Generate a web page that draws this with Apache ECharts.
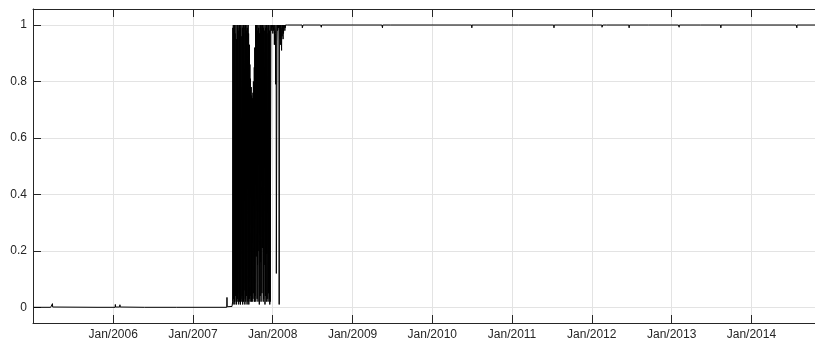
<!DOCTYPE html>
<html><head><meta charset="utf-8">
<script src="https://cdn.jsdelivr.net/npm/echarts@6/dist/echarts.min.js"></script>
<style>html,body{margin:0;padding:0;background:#fff}#c{width:815px;height:342px}</style>
</head><body><div id="c"></div><script>
// ---- data ----
const preDates = ['2005-01-03','2005-03-21','2005-03-22','2005-03-23','2005-03-28','2005-03-29','2005-03-30','2005-10-19','2005-10-20','2005-10-21','2006-01-10','2006-01-11','2006-01-12','2006-01-31','2006-02-01','2006-02-02','2006-05-24','2006-05-25','2006-05-26','2006-10-19','2006-10-20','2006-10-23','2007-06-05','2007-06-06','2007-06-07','2007-06-29'];
const preValues = [0,0,0.006,0.001,0.003,0.013,0.001,0,0.003,0,0,0.01,0.001,0.001,0.009,0.001,0,0.003,0,0,0.003,0,0,0.035,0.002,0.003];

// business-day values from 2007-07-02 (Mon), five per week
const transStart = '2007-07-02';
const transValues = [
  0.02,0.99,0.01,1,0.03,
  0.98,0.02,1,0.01,0.97,
  0.04,1,0.02,0.95,0.01,
  1,0.03,0.99,0.02,1,
  0.01,0.98,0.05,1,0.02,
  0.99,0.01,1,0.03,0.96,
  0.02,1,0.04,0.99,0.01,
  1,0.02,0.97,0.06,1,
  0.01,0.99,0.03,1,0.02,
  0.98,0.04,1,0.01,0.99,
  0.02,1,0.03,0.97,0.01,
  0.93,0.03,0.86,0.02,0.81,
  0.04,0.78,0.02,0.75,0.03,
  0.74,0.02,0.76,0.05,0.8,
  0.03,0.85,0.02,0.92,0.04,
  1,0.02,0.99,0.18,1,
  0.03,0.98,0.15,1,0.02,
  0.99,0.2,1,0.01,0.97,
  0.04,1,0.16,0.99,0.02,
  1,0.05,0.98,0.21,1,
  0.02,0.99,0.03,1,0.15,
  0.98,0.01,1,0.04,0.99,
  0.02,1,0.19,0.97,0.03,
  1,0.02,0.99,0.05,1,
  0.03,0.98,0.01,1,0.02,
  0.99,1,0.98,1,0.99,
  1,0.99,0.97,1,0.98,
  1,0.99,0.93,0.98,1,
  0.97,0.79,0.95,1,0.12,
  0.94,0.99,1,0.98,1,
  0.99,1,0.98,0.01,1,
  0.98,0.95,1,0.93,0.99,
  0.91,1,0.96,0.98,1,
  0.95,1,0.97,1,0.99,
  1,0.98,1,0.99,1,
  1,1,0.995,1,1
];

const postDates = ['2008-03-10','2008-05-15','2008-05-16','2008-05-19','2008-08-08','2008-08-11','2008-08-12','2009-05-15','2009-05-18','2009-05-19','2009-06-25','2009-06-26','2009-06-29','2010-06-30','2010-07-01','2010-07-02','2011-02-01','2011-02-02','2011-02-03','2011-07-11','2011-07-12','2011-07-13','2012-01-24','2012-01-25','2012-01-26','2012-02-16','2012-02-17','2012-02-20','2012-03-09','2012-03-12','2012-03-13','2012-06-19','2012-06-20','2012-06-21','2012-09-18','2012-09-19','2012-09-20','2013-02-01','2013-02-04','2013-02-05','2013-05-14','2013-05-15','2013-05-16','2013-08-13','2013-08-14','2013-08-15','2014-07-25','2014-07-28','2014-07-29','2014-10-20'];
const postValues = [1,1,0.99,1,1,0.992,1,1,0.99,1,1,0.993,1,1,0.99,1,1,0.994,1,1,0.99,1,1,0.993,1,1,0.992,1,1,0.994,1,1,0.99,1,1,0.993,1,1,0.992,1,1,0.993,1,1,0.99,1,1,0.99,1,1];

const xTickYears = [2006,2007,2008,2009,2010,2011,2012,2013,2014];
const yTicks = [0,0.2,0.4,0.6,0.8,1];

// ---- build series ----
function parseD(s){const p=s.split('-').map(Number);return new Date(p[0],p[1]-1,p[2]).getTime();}
const pts = [];
preDates.forEach((d,i)=>pts.push([parseD(d),preValues[i]]));
const t0 = parseD(transStart);
transValues.forEach((v,i)=>{
  const d = new Date(t0); d.setDate(d.getDate()+Math.floor(i/5)*7+(i%5));
  pts.push([d.getTime(),v]);
});
postDates.forEach((d,i)=>pts.push([parseD(d),postValues[i]]));

const xTicks = xTickYears.map(y=>new Date(y,0,1).getTime());
const xMin = new Date(2004,11,30).getTime();
const xMax = new Date(2014,9,19).getTime();
const axisCol = '#262626';
const gridCol = '#e3e3e3';
const font = {fontFamily:'Liberation Sans, Arial, sans-serif',fontSize:12,color:axisCol};
const axLine = {show:true,onZero:false,lineStyle:{color:axisCol,width:1}};

const chart = echarts.init(document.getElementById('c'),null,{renderer:'canvas'});
chart.setOption({
  animation:false,
  backgroundColor:'#fff',
  grid:{left:33,right:-1,top:9,bottom:19,containLabel:false},
  xAxis:[{
    type:'value',min:xMin,max:xMax,position:'bottom',scale:true,
    axisLine:axLine,
    axisTick:{show:true,inside:true,length:8,customValues:xTicks,lineStyle:{color:axisCol}},
    axisLabel:Object.assign({show:true,margin:6,customValues:xTicks,hideOverlap:false,
      formatter:(v)=>'Jan/'+new Date(v).getFullYear()},font),
    splitLine:{show:true,lineStyle:{color:gridCol,width:1}},
    minorTick:{show:false}
  },{
    type:'value',min:xMin,max:xMax,position:'top',scale:true,
    axisLine:axLine,
    axisTick:{show:true,inside:true,length:8,customValues:xTicks,lineStyle:{color:axisCol}},
    axisLabel:{show:false},splitLine:{show:false}
  }],
  yAxis:[{
    type:'value',min:-0.0556,max:1.0567,position:'left',
    axisLine:axLine,
    axisTick:{show:true,inside:true,length:8,customValues:yTicks,lineStyle:{color:axisCol}},
    axisLabel:Object.assign({show:true,margin:6,customValues:yTicks,formatter:(v)=>String(Math.round(v*10)/10)},font),
    splitLine:{show:true,lineStyle:{color:gridCol,width:1}}
  }],
  series:[{
    type:'line',xAxisIndex:0,yAxisIndex:0,data:pts,showSymbol:false,symbol:'none',
    lineStyle:{color:'#000',width:1},clip:true,silent:true
  }]
});
</script></body></html>
